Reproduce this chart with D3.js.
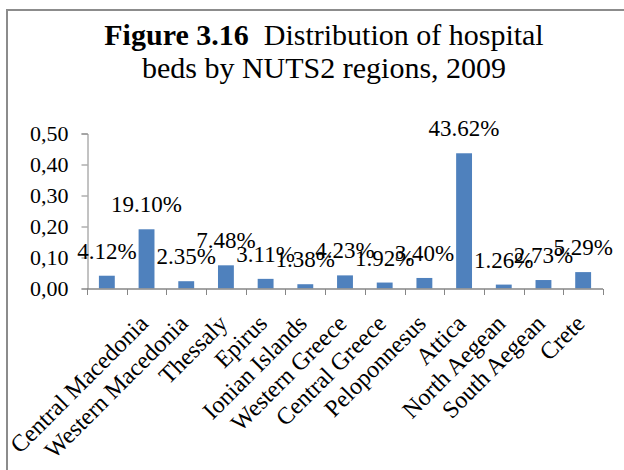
<!DOCTYPE html>
<html>
<head>
    <meta charset="utf-8">
    <style>
        body {
            margin: 0;
            background: white;
        }
        svg {
            font-family: 'Liberation Serif', 'Times New Roman', serif;
        }
    </style>
</head>
<body>
    <svg width="624" height="470"></svg>

<script src="https://d3js.org/d3.v7.min.js"></script>
<script>
    // first category has no visible label in the original figure
    let regions = ["", "Central Macedonia", "Western Macedonia", "Thessaly", "Epirus",
        "Ionian Islands", "Western Greece", "Central Greece", "Peloponnesus", "Attica",
        "North Aegean", "South Aegean", "Crete"]
    let shares = [0.0412, 0.1910, 0.0235, 0.0748, 0.0311, 0.0138, 0.0423, 0.0192,
        0.0340, 0.4362, 0.0126, 0.0273, 0.0529]
    let yTicks = [0, 0.1, 0.2, 0.3, 0.4, 0.5]

    let width = 624
    let height = 470

    let svg = d3.select("svg")

    // white background + outer frame (runs off the right/bottom edge)
    svg.append("rect")
        .attr("width", width).attr("height", height)
        .style("fill", "white")

    svg.append("rect")
        .attr("x", 7).attr("y", 10)
        .attr("width", 700).attr("height", 600)
        .style("fill", "none")
        .style("stroke", "#8c8c8c")
        .style("stroke-width", 2)

    // title
    let title = svg.append("text")
        .attr("text-anchor", "middle")
        .style("font-size", "30px")
        .style("fill", "black")

    let line1 = title.append("tspan").attr("x", 324).attr("y", 45)
    line1.append("tspan").style("font-weight", "bold").text("Figure 3.16")
    line1.append("tspan").text("\u00a0 Distribution of hospital")

    title.append("tspan").attr("x", 324).attr("y", 78)
        .text("beds by NUTS2 regions, 2009")

    // scales
    let x = d3.scaleBand()
        .domain(d3.range(regions.length))
        .range([87, 603])
        .paddingInner(0.6)
        .paddingOuter(0.3)

    let y = d3.scaleLinear()
        .domain([0, 0.5])
        .range([288.5, 133.5])

    let axisColor = "#868686"

    // y axis
    let yAxis = svg.append("g")
        .attr("transform", "translate(87.5,0)")
        .call(d3.axisLeft(y)
            .tickValues(yTicks)
            .tickSize(6)
            .tickPadding(13)
            .tickFormat(d => d3.format(".2f")(d).replace(".", ",")))

    yAxis.select(".domain").style("stroke", axisColor)
    yAxis.selectAll(".tick line").style("stroke", axisColor)
    yAxis.selectAll(".tick text")
        .style("font-family", "'Liberation Serif', 'Times New Roman', serif")
        .style("font-size", "22px")
        .style("fill", "black")

    // bars
    svg.append("g")
        .selectAll("rect")
        .data(shares)
        .join("rect")
        .attr("x", (d, i) => x(i))
        .attr("width", x.bandwidth())
        .attr("y", d => y(d))
        .attr("height", d => y(0) - y(d))
        .style("fill", "#4f81bd")

    // x axis line and boundary ticks
    let step = x.step()
    let bounds = d3.range(regions.length + 1).map(i => 87 + i * step)

    svg.append("line")
        .attr("x1", 87).attr("x2", 603)
        .attr("y1", 289).attr("y2", 289)
        .style("stroke", axisColor)
        .style("stroke-width", 1.5)

    svg.append("g")
        .selectAll("line")
        .data(bounds)
        .join("line")
        .attr("x1", d => Math.round(d) + 0.5).attr("x2", d => Math.round(d) + 0.5)
        .attr("y1", 289).attr("y2", 295)
        .style("stroke", axisColor)

    // value labels
    svg.append("g")
        .selectAll("text")
        .data(shares)
        .join("text")
        .attr("x", (d, i) => x(i) + x.bandwidth() / 2)
        .attr("y", d => y(d) - 17)
        .attr("text-anchor", "middle")
        .style("font-size", "23px")
        .style("fill", "black")
        .text(d => (d * 100).toFixed(2) + "%")

    // rotated category labels
    svg.append("g")
        .selectAll("text")
        .data(regions)
        .join("text")
        .attr("transform", (d, i) => "translate(" + (x(i) + x.bandwidth() / 2 - 3) + ",319) rotate(-45)")
        .attr("text-anchor", "end")
        .attr("dy", "0.35em")
        .style("font-size", "24px")
        .style("fill", "black")
        .text(d => d)
</script>
</body>
</html>
